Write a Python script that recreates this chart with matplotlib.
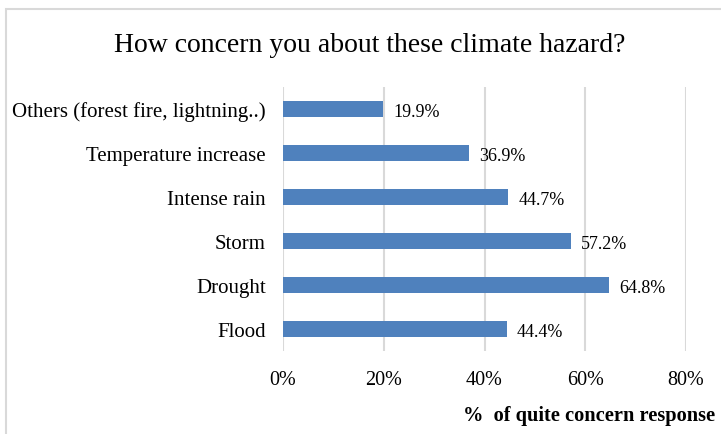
import matplotlib
matplotlib.use('Agg')
import matplotlib.pyplot as plt
from matplotlib.patches import Rectangle

BAR = '#4f81bd'
GRID = '#d9d9d9'
FG = '#000000'

categories = ['Flood', 'Drought', 'Storm', 'Intense rain',
              'Temperature increase', 'Others (forest fire, lightning..)']
values = [44.4, 64.8, 57.2, 44.7, 36.9, 19.9]
xticks = [0, 20, 40, 60, 80]

plt.rcParams.update({
    'font.family': ['Liberation Serif', 'DejaVu Serif'],
    'text.color': FG,
})

fig = plt.figure(figsize=(7.21, 4.35), dpi=100)
ax = fig.add_axes([283 / 721, 1 - 352 / 435, 403 / 721, 264 / 435])

# chart frame (cut off at right and bottom in the original)
fig.patches.append(Rectangle((6 / 721, -0.05), 1.0, 1 - 10 / 435 + 0.05,
                             transform=fig.transFigure, fill=False,
                             edgecolor=GRID, linewidth=1.5))

ypos = list(range(len(categories)))
ax.barh(ypos, values, height=0.37, color=BAR, zorder=3)
for y, v in zip(ypos, values):
    ax.text(v + 2.0, y - 0.05, f'{v:.1f}%', ha='left', va='center', fontsize=13)

ax.set_xlim(0, 80)
ax.set_ylim(-0.5, len(categories) - 0.5)
ax.set_xticks(xticks)
ax.set_xticklabels([f'{t}%' for t in xticks], fontsize=14.5)
ax.set_yticks(ypos)
ax.set_yticklabels(categories, fontsize=15)
ax.tick_params(length=0, pad=12.5, axis='y')
ax.tick_params(length=0, pad=14, axis='x')
ax.grid(axis='x', color=GRID, linewidth=1.5, zorder=0)
for s in ax.spines.values():
    s.set_visible(False)

fig.text(370 / 721, 1 - 45 / 435, 'How concern you about these climate hazard?',
         ha='center', va='center', fontsize=20)
fig.text(715 / 721, 1 - 416 / 435, '%  of quite concern response',
         ha='right', va='center', fontsize=14.7, fontweight='bold')

fig.savefig('out.png', dpi=100)
